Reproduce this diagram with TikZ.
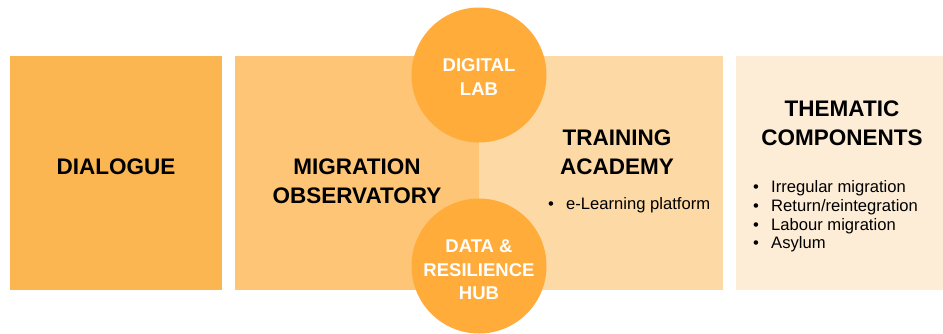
\documentclass[tikz,border=0pt]{standalone}
\usepackage{fontspec}
\setmainfont{Liberation Sans}
\definecolor{cDia}{HTML}{FBB651}
\definecolor{cMig}{HTML}{FDC575}
\definecolor{cTra}{HTML}{FDDAA5}
\definecolor{cThe}{HTML}{FEEDD6}
\definecolor{cCir}{HTML}{FFAC3A}
\begin{document}
\begin{tikzpicture}[x=1pt,y=-1pt,
  panel/.style={draw=none,minimum height=234pt,anchor=north west,inner sep=0pt},
  title/.style={font=\fontsize{22.5}{29}\selectfont\bfseries,align=center,text=black},
  circ/.style={circle,fill=cCir,minimum size=135pt,inner sep=0pt},
  circtext/.style={font=\fontsize{18.5}{23.5}\selectfont\bfseries,text=white,align=center,inner sep=0pt},
  item/.style={font=\fontsize{16.6}{19}\selectfont,anchor=base west,inner sep=0pt},
  dot/.style={font=\fontsize{16.6}{19}\selectfont,anchor=base,inner sep=0pt}]
\useasboundingbox (0,0) rectangle (943,333);
\node[panel,fill=cDia,minimum width=212pt] (dia) at (10,56) {};
\node[panel,fill=cMig,minimum width=244pt] (mig) at (235,56) {};
\node[panel,fill=cTra,minimum width=244pt] (tra) at (479,56) {};
\node[panel,fill=cThe,minimum width=207pt] (the) at (736,56) {};
\node[circ] (lab) at (479,75) {};
\node[circtext] (labt) at (479,77) {DIGITAL\\LAB};
\node[circ] (hub) at (479,266) {};
\node[circtext] (hubt) at (479,270) {DATA \&\\RESILIENCE\\HUB};
\node[title,anchor=base] (tdia) at (116,174) {DIALOGUE};
\node[title,anchor=base] (tmig) at (357,203) {MIGRATION\\OBSERVATORY};
\node[title,anchor=base] (ttra) at (617,174) {TRAINING\\ACADEMY};
\node[title,anchor=base] (tthe) at (842,145) {THEMATIC\\COMPONENTS};
\node[dot] (b0) at (551,209) {•};
\node[item] (e0) at (566,209) {e-Learning platform};
\node[dot] (b1) at (756,192) {•};
\node[item] (e1) at (771,192) {Irregular migration};
\node[dot] (b2) at (756,211) {•};
\node[item] (e2) at (771,211) {Return/reintegration};
\node[dot] (b3) at (756,230) {•};
\node[item] (e3) at (771,230) {Labour migration};
\node[dot] (b4) at (756,248) {•};
\node[item] (e4) at (771,248) {Asylum};
\end{tikzpicture}
\end{document}
